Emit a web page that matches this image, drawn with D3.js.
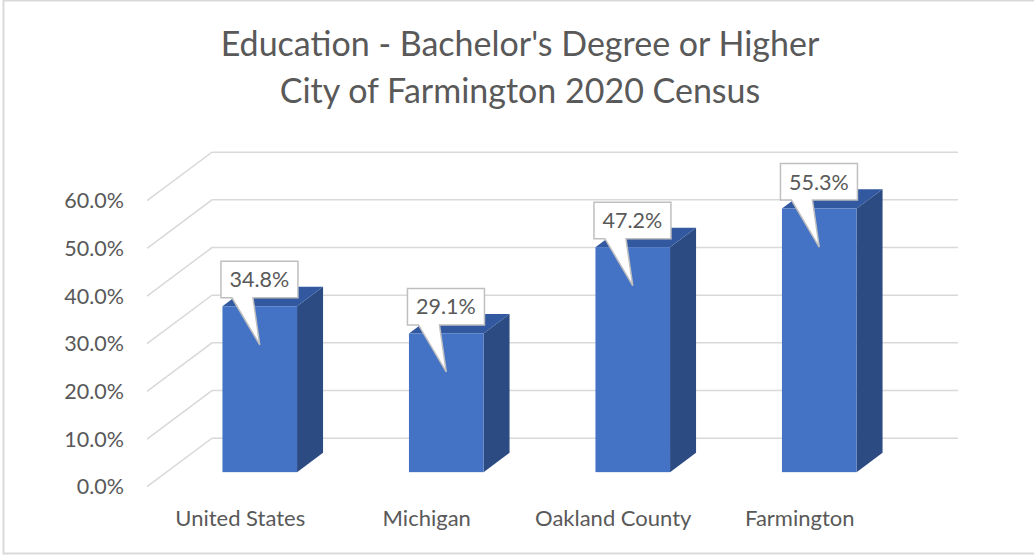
<!DOCTYPE html>
<html lang="en">
<head>
<meta charset="utf-8">
<title>Education - Bachelor's Degree or Higher</title>
<style type="text/css">
body { margin: 0; background: #fff; }
text { font-family: Lato, "Open Sans", sans-serif; fill: #595959; }
.grid path { fill: none; stroke: #d9d9d9; stroke-width: 1.5px; }
</style>
</head>
<body>
<svg width="1034" height="555"></svg>
<script src="https://cdn.jsdelivr.net/npm/d3@7"></script>
<script>
var categories = ["United States", "Michigan", "Oakland County", "Farmington"];
var values = [34.8, 29.1, 47.2, 55.3];
var tickValues = [0, 10, 20, 30, 40, 50, 60];
var titleLines = ["Education - Bachelor's Degree or Higher", "City of Farmington 2020 Census"];

var svg = d3.select("svg"),
    depthX = 65,    // offset of the back wall
    depthY = -48.5,
    barZ0 = 0.3,    // bar front, as fraction of depth
    barZ1 = 0.7;

// chart frame
svg.append("rect")
    .attr("x", 3.5).attr("y", 0.5)
    .attr("width", 1040).attr("height", 553)
    .attr("fill", "#fff").attr("stroke", "#d9d9d9").attr("stroke-width", 2);

var x = d3.scaleBand().domain(categories)
    .range([147, 893]).paddingInner(0.6).paddingOuter(0.3);
var y = d3.scaleLinear().domain([0, 60]).range([486.7, 200.7]);

// project (x, y, z) with z in [0,1] from front to back wall
function px(xv, z) { return xv + z * depthX; }
function py(yv, z) { return yv + z * depthY; }

// title
svg.append("g").selectAll("text")
    .data(titleLines)
  .enter().append("text")
    .attr("x", 520)
    .attr("y", function(d, i) { return 56 + i * 47; })
    .attr("text-anchor", "middle")
    .style("font-size", "34px")
    .text(function(d) { return d; });

// gridlines: diagonal on side wall then along back wall
var x0 = x.range()[0], x1 = x.range()[1];
svg.append("g").attr("class", "grid").selectAll("path")
    .data(tickValues)
  .enter().append("path")
    .attr("d", function(d) {
      return "M" + px(x0, 0) + "," + py(y(d), 0) +
             "L" + px(x0, 1) + "," + py(y(d), 1) +
             "L" + px(x1, 1) + "," + py(y(d), 1);
    });

// tick labels
svg.append("g").selectAll("text")
    .data(tickValues)
  .enter().append("text")
    .attr("x", 124)
    .attr("y", function(d) { return y(d); })
    .attr("dy", "0.36em")
    .attr("text-anchor", "end")
    .style("font-size", "21.5px")
    .text(function(d) { return d3.format(".1f")(d) + "%"; });

// category labels
svg.append("g").selectAll("text")
    .data(categories)
  .enter().append("text")
    .attr("x", function(d) { return x(d) + x.bandwidth() / 2; })
    .attr("y", 526)
    .attr("text-anchor", "middle")
    .style("font-size", "22px")
    .text(function(d) { return d; });

// bars
var bars = svg.append("g").selectAll("g")
    .data(values)
  .enter().append("g");

function pts(a) { return a.map(function(p) { return p.join(","); }).join(" "); }

bars.each(function(v, i) {
  var g = d3.select(this),
      l = x(categories[i]), r = l + x.bandwidth(),
      b = y(0), t = y(v);
  // side face
  g.append("polygon").attr("fill", "#2c4b82")
    .attr("points", pts([[px(r, barZ0), py(t, barZ0)], [px(r, barZ1), py(t, barZ1)],
                         [px(r, barZ1), py(b, barZ1)], [px(r, barZ0), py(b, barZ0)]]));
  // top face
  g.append("polygon").attr("fill", "#3258a0")
    .attr("points", pts([[px(l, barZ0), py(t, barZ0)], [px(r, barZ0), py(t, barZ0)],
                         [px(r, barZ1), py(t, barZ1)], [px(l, barZ1), py(t, barZ1)]]));
  // front face
  g.append("rect").attr("fill", "#4472c4")
    .attr("x", px(l, barZ0)).attr("y", py(t, barZ0))
    .attr("width", r - l).attr("height", b - t);
});

// data label callouts
bars.each(function(v, i) {
  var g = d3.select(this),
      l = px(x(categories[i]), barZ0),
      cx = l + x.bandwidth() / 2,
      top = py(y(v), barZ0),
      rx = l - 1.5, rw = 77, ry = top - 45, rh = 36.5;
  g.append("path")
    .attr("fill", "#fff").attr("stroke", "#bfbfbf").attr("stroke-width", 1.5)
    .attr("d", "M" + rx + "," + ry + "h" + rw + "v" + rh +
               "H" + (rx + 32) + "L" + cx + "," + (top + 38.5) +
               "L" + (rx + 11) + "," + (ry + rh) + "H" + rx + "Z");
  g.append("text")
    .attr("x", rx + rw / 2)
    .attr("y", ry + rh / 2)
    .attr("dy", "0.36em")
    .attr("text-anchor", "middle")
    .style("font-size", "21.5px")
    .text(d3.format(".1f")(v) + "%");
});
</script>
</body>
</html>
